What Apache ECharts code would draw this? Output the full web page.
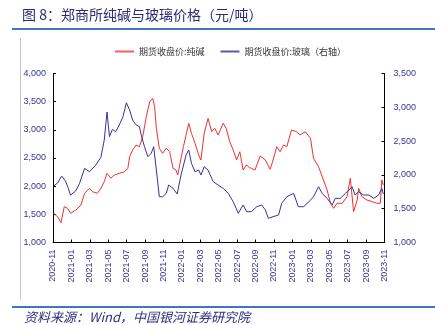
<!DOCTYPE html>
<html>
<head>
<meta charset="utf-8">
<script src="https://cdn.jsdelivr.net/npm/echarts@6/dist/echarts.min.js"></script>
<style>
  html, body { margin: 0; padding: 0; background: #fff; }
  #chart { width: 435px; height: 325px; }
</style>
</head>
<body>
<div id="chart"></div>
<script>
// Tick labels on the time axis, one every two months
const xTickLabels = [
  '2020-11', '2021-01', '2021-03', '2021-05', '2021-07', '2021-09', '2021-11',
  '2022-01', '2022-03', '2022-05', '2022-07', '2022-09', '2022-11',
  '2023-01', '2023-03', '2023-05', '2023-07', '2023-09', '2023-11'
];

// 期货收盘价:纯碱 (元/吨)
const sodaDates = [
  '2020-11-03', '2020-11-16', '2020-11-27', '2020-12-08', '2020-12-19', '2020-12-29',
  '2021-01-16', '2021-02-02', '2021-02-13', '2021-02-28', '2021-03-10', '2021-03-26',
  '2021-04-07', '2021-04-18', '2021-04-27', '2021-05-10', '2021-05-21', '2021-06-07',
  '2021-06-24', '2021-07-05', '2021-07-11', '2021-07-21', '2021-08-02', '2021-08-13',
  '2021-08-24', '2021-09-05', '2021-09-16', '2021-09-26', '2021-10-02', '2021-10-08',
  '2021-10-18', '2021-10-29', '2021-11-10', '2021-11-21', '2021-12-02', '2021-12-12',
  '2021-12-18', '2021-12-29', '2022-01-06', '2022-01-15', '2022-01-24', '2022-02-02',
  '2022-02-13', '2022-02-24', '2022-03-03', '2022-03-14', '2022-03-27', '2022-04-08',
  '2022-04-18', '2022-04-29', '2022-05-16', '2022-05-26', '2022-06-07', '2022-06-18',
  '2022-06-29', '2022-07-10', '2022-07-21', '2022-08-02', '2022-08-11', '2022-08-18',
  '2022-08-30', '2022-09-16', '2022-10-03', '2022-10-19', '2022-10-29', '2022-11-10',
  '2022-11-21', '2022-12-02', '2022-12-13', '2022-12-29', '2023-01-15', '2023-01-26',
  '2023-02-12', '2023-02-28', '2023-03-10', '2023-03-27', '2023-04-08', '2023-04-24',
  '2023-05-05', '2023-05-16', '2023-05-27', '2023-06-13', '2023-06-29', '2023-07-10',
  '2023-07-21', '2023-08-02', '2023-08-07', '2023-08-18', '2023-09-04', '2023-09-21',
  '2023-10-07', '2023-10-18', '2023-10-23', '2023-10-28'
];
const sodaValues = [
  1518, 1458, 1352, 1636, 1607, 1518,
  1577, 1666, 1873, 1962, 1902, 1873,
  1962, 2079, 2228, 2140, 2198, 2228,
  2257, 2317, 2523, 2642, 2731, 2700,
  2878, 3233, 3499, 3559, 3411, 3027,
  2672, 2583, 2672, 2612, 2317, 2287,
  2198, 2494, 2700, 2908, 3116, 2938,
  2761, 2553, 2464, 2938, 3204, 2967,
  3027, 2908, 3116, 3027, 2790, 2642,
  2464, 2612, 2287, 2376, 2330, 2317,
  2287, 2535, 2464, 2299, 2464, 2700,
  2612, 2731, 2700, 2997, 2967, 2908,
  2967, 2849, 2494, 2346, 2168, 1932,
  1696, 1607, 1696, 1696, 1813, 2140,
  1547, 1754, 1962, 1813, 1754, 1725,
  1696, 1696, 2109, 2021
];

// 期货收盘价:玻璃 (元/吨, 右轴)
const glassDates = [
  '2020-11-03', '2020-11-16', '2020-11-29', '2020-12-12', '2020-12-20', '2020-12-29',
  '2021-01-15', '2021-01-28', '2021-02-13', '2021-02-28', '2021-03-21', '2021-04-07',
  '2021-04-18', '2021-04-27', '2021-05-05', '2021-05-15', '2021-05-26', '2021-06-07',
  '2021-06-19', '2021-06-30', '2021-07-11', '2021-07-21', '2021-08-02', '2021-08-13',
  '2021-08-19', '2021-08-30', '2021-09-10', '2021-09-21', '2021-09-29', '2021-10-08',
  '2021-10-18', '2021-10-29', '2021-11-10', '2021-11-18', '2021-12-02', '2021-12-16',
  '2021-12-29', '2022-01-15', '2022-01-24', '2022-02-02', '2022-02-13', '2022-02-24',
  '2022-03-03', '2022-03-14', '2022-03-27', '2022-04-13', '2022-04-29', '2022-05-16',
  '2022-06-02', '2022-06-18', '2022-07-05', '2022-07-21', '2022-08-02', '2022-08-18',
  '2022-08-24', '2022-09-05', '2022-09-21', '2022-10-03', '2022-10-13', '2022-10-29',
  '2022-11-16', '2022-11-26', '2022-12-13', '2023-01-05', '2023-01-21', '2023-02-07',
  '2023-02-23', '2023-03-10', '2023-03-27', '2023-04-08', '2023-04-24', '2023-05-11',
  '2023-05-21', '2023-06-07', '2023-06-24', '2023-07-16', '2023-07-26', '2023-08-07',
  '2023-08-23', '2023-09-10', '2023-09-26', '2023-10-12', '2023-10-23', '2023-10-28'
];
const glassValues = [
  1836, 1880, 1983, 1910, 1820, 1702,
  1760, 1870, 2097, 2047, 2146, 2260,
  2516, 2930, 2565, 2674, 2639, 2738,
  2861, 3068, 2960, 2812, 2738, 2713,
  2590, 2417, 2269, 2319, 2417, 2072,
  1677, 1677, 1727, 1850, 1801, 1717,
  1998, 2294, 2368, 2171, 2047, 2072,
  1998, 2121, 2072, 1899, 1850, 1801,
  1727, 1603, 1432, 1555, 1456, 1456,
  1481, 1530, 1555, 1481, 1358, 1382,
  1407, 1580, 1677, 1727, 1530, 1530,
  1603, 1677, 1825, 1727, 1653, 1555,
  1653, 1653, 1727, 1825, 1702, 1751,
  1702, 1702, 1653, 1702, 1801, 1720
];

// Month offset from 2020-11-01, so the axis can step exactly two months per tick
function monthOffset(dateStr) {
  const [y, m, d] = dateStr.split('-').map(Number);
  const daysInMonth = new Date(y, m, 0).getDate();
  return (y - 2020) * 12 + (m - 11) + (d - 1) / daysInMonth;
}
function toPoints(dates, values) {
  return dates.map((d, i) => [monthOffset(d), values[i]]);
}

const navy = '#35358c';
const numFont = '"Liberation Sans", Arial, sans-serif';
const cjkFont = '"Noto Sans CJK SC", "Liberation Sans", sans-serif';
const thousands = v => v.toLocaleString('en-US');

const chart = echarts.init(document.getElementById('chart'), null, { renderer: 'canvas' });
chart.setOption({
  animation: false,
  backgroundColor: '#fff',
  graphic: [
    {
      type: 'text',
      style: {
        x: 22, y: 8,
        text: '图 8：郑商所纯碱与玻璃价格（元/吨）',
        font: '14px "Noto Sans CJK SC", sans-serif',
        textAlign: 'left',
        textVerticalAlign: 'top',
        fill: '#2a2a78'
      }
    },
    { type: 'rect', shape: { x: 12, y: 28, width: 423, height: 2 }, style: { fill: '#4472c4' } },
    { type: 'rect', shape: { x: 20, y: 38, width: 1, height: 262 }, style: { fill: '#c4c4c4' } },
    { type: 'rect', shape: { x: 12, y: 306, width: 423, height: 2 }, style: { fill: '#4472c4' } },
    {
      type: 'text',
      style: {
        x: 24, y: 311,
        text: '资料来源：Wind，中国银河证券研究院',
        font: 'italic 13px "Noto Sans CJK SC", serif',
        textAlign: 'left',
        textVerticalAlign: 'top',
        fill: '#2f2f7e'
      }
    }
  ],
  legend: {
    left: 110,
    top: 42,
    itemWidth: 19,
    itemHeight: 2,
    itemGap: 16,
    icon: 'rect',
    textStyle: { fontFamily: cjkFont, fontSize: 9, color: '#333' },
    data: ['期货收盘价:纯碱', '期货收盘价:玻璃（右轴）']
  },
  grid: { left: 53, right: 50.5, top: 73.5, bottom: 82.5, containLabel: false },
  xAxis: {
    type: 'value',
    min: 0,
    max: 36,
    interval: 2,
    axisLine: { lineStyle: { color: '#000', width: 1 } },
    axisTick: { inside: true, length: 3, lineStyle: { color: '#000' } },
    splitLine: { show: false },
    axisLabel: {
      rotate: 90,
      margin: 7,
      fontFamily: numFont,
      fontSize: 9,
      color: navy,
      formatter: v => xTickLabels[Math.round(v / 2)]
    }
  },
  yAxis: [
    {
      type: 'value',
      min: 1000,
      max: 4000,
      interval: 500,
      axisLine: { show: true, lineStyle: { color: '#000', width: 1 } },
      axisTick: { show: true, inside: true, length: 3, lineStyle: { color: '#000' } },
      splitLine: { show: false },
      axisLabel: { margin: 7, fontFamily: numFont, fontSize: 9, color: navy, formatter: thousands }
    },
    {
      type: 'value',
      min: 1000,
      max: 3500,
      interval: 500,
      position: 'right',
      axisLine: { show: true, lineStyle: { color: '#000', width: 1 } },
      axisTick: { show: true, inside: true, length: 3, lineStyle: { color: '#000' } },
      splitLine: { show: false },
      axisLabel: { margin: 9, fontFamily: numFont, fontSize: 9, color: navy, formatter: thousands }
    }
  ],
  series: [
    {
      name: '期货收盘价:纯碱',
      type: 'line',
      yAxisIndex: 0,
      data: toPoints(sodaDates, sodaValues),
      showSymbol: false,
      lineStyle: { color: '#f03030', width: 1 },
      itemStyle: { color: '#f06060' }
    },
    {
      name: '期货收盘价:玻璃（右轴）',
      type: 'line',
      yAxisIndex: 1,
      data: toPoints(glassDates, glassValues),
      showSymbol: false,
      lineStyle: { color: '#33339a', width: 1 },
      itemStyle: { color: '#5a5aa0' }
    }
  ]
});
</script>
</body>
</html>
